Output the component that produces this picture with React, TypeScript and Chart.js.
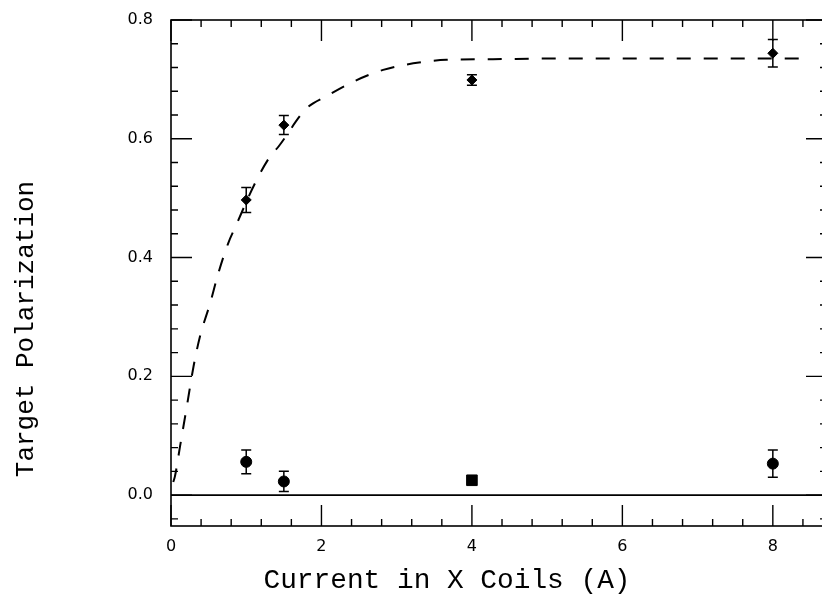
import React, { useEffect, useRef } from "react";
import { Chart, registerables } from "chart.js";

Chart.register(...registerables);

// ---- Data ----
const currents = [1, 1.5, 4, 8];
const polarizedValues = [0.497, 0.623, 0.699, 0.744];
const polarizedErrors = [0.021, 0.016, 0.009, 0.023];

const unpolarizedValues = [0.056, 0.023, 0.025, 0.053];
const unpolarizedErrors = [0.02, 0.017, 0.004, 0.023];
const unpolarizedStyles = ["circle", "circle", "rect", "circle"];
const unpolarizedRadii = [5.5, 5.5, 7.5, 5.5];

const fitCurrent = [0.03, 0.053, 0.12, 0.21, 0.3, 0.385, 0.52, 0.63, 0.76, 0.85, 1.116, 1.316, 1.43, 1.8, 2.07, 2.42, 2.82, 3.22, 3.66, 4.28, 5.0, 6.0, 7.0, 8.0, 8.4];
const fitPolarization = [0.022, 0.032, 0.082, 0.149, 0.217, 0.267, 0.323, 0.374, 0.424, 0.45, 0.525, 0.57, 0.587, 0.651, 0.672, 0.696, 0.716, 0.727, 0.733, 0.734, 0.735, 0.735, 0.735, 0.735, 0.735];

const xTicks = [0, 0.4, 0.8, 1.2, 1.6, 2, 2.4, 2.8, 3.2, 3.6, 4, 4.4, 4.8, 5.2, 5.6, 6, 6.4, 6.8, 7.2, 7.6, 8, 8.4];
const xMajorTicks = [0, 2, 4, 6, 8];
const yTicks = [-0.04, 0, 0.04, 0.08, 0.12, 0.16, 0.2, 0.24, 0.28, 0.32, 0.36, 0.4, 0.44, 0.48, 0.52, 0.56, 0.6, 0.64, 0.68, 0.72, 0.76, 0.8];
const yMajorTicks = [0, 0.2, 0.4, 0.6, 0.8];

const X_MIN = 0;
const X_MAX = 8.72;
const Y_MIN = -0.052;
const Y_MAX = 0.8;

const xTitle = "Current in X Coils (A)";
const yTitle = "Target Polarization";

const isIn = (arr: number[], v: number) => arr.some((a) => Math.abs(a - v) < 1e-6);

const decorPlugin = {
  id: "decor",
  beforeDatasetsDraw(chart: any) {
    const { ctx, scales } = chart;
    const { x, y } = scales;
    ctx.save();
    ctx.strokeStyle = "#000";
    ctx.lineWidth = 1.5;
    chart.data.datasets.forEach((ds: any) => {
      if (!ds.errors) return;
      ds.data.forEach((p: any, i: number) => {
        const e = ds.errors[i];
        const px = x.getPixelForValue(p.x);
        const top = y.getPixelForValue(p.y + e);
        const bot = y.getPixelForValue(p.y - e);
        ctx.beginPath();
        ctx.moveTo(px, top);
        ctx.lineTo(px, bot);
        ctx.moveTo(px - 5, top);
        ctx.lineTo(px + 5, top);
        ctx.moveTo(px - 5, bot);
        ctx.lineTo(px + 5, bot);
        ctx.stroke();
      });
    });
    ctx.restore();
  },
  afterDraw(chart: any) {
    const { ctx, chartArea, scales } = chart;
    const { left, right, top, bottom } = chartArea;
    const { x, y } = scales;
    ctx.save();
    ctx.strokeStyle = "#000";
    ctx.lineWidth = 1.6;
    ctx.strokeRect(left, top, right - left, bottom - top);
    ctx.lineWidth = 1.4;
    ctx.beginPath();
    xTicks.forEach((v) => {
      const px = x.getPixelForValue(v);
      const len = isIn(xMajorTicks, v) ? 21 : 7;
      ctx.moveTo(px, bottom);
      ctx.lineTo(px, bottom - len);
      ctx.moveTo(px, top);
      ctx.lineTo(px, top + len);
    });
    yTicks.forEach((v) => {
      const py = y.getPixelForValue(v);
      const len = isIn(yMajorTicks, v) ? 21 : 7;
      ctx.moveTo(left, py);
      ctx.lineTo(left + len, py);
      ctx.moveTo(right, py);
      ctx.lineTo(right - len, py);
    });
    ctx.stroke();

    ctx.fillStyle = "#000";
    ctx.font = "27.8px 'Liberation Mono'";
    ctx.textAlign = "center";
    ctx.textBaseline = "alphabetic";
    ctx.fillText(xTitle, left + 276, 588);

    ctx.font = "26px 'Liberation Mono'";
    ctx.translate(33, 329);
    ctx.rotate(-Math.PI / 2);
    ctx.fillText(yTitle, 0, 0);
    ctx.restore();
  },
};

export default function App() {
  const canvasRef = useRef<HTMLCanvasElement | null>(null);

  useEffect(() => {
    if (!canvasRef.current) return;
    const chart = new Chart(canvasRef.current, {
      type: "scatter",
      data: {
        datasets: [
          {
            type: "line",
            label: "zero",
            data: [
              { x: X_MIN, y: 0 },
              { x: X_MAX, y: 0 },
            ],
            borderColor: "#000",
            borderWidth: 1.6,
            pointRadius: 0,
          },
          {
            type: "line",
            label: "fit",
            data: fitCurrent.map((c, i) => ({ x: c, y: fitPolarization[i] })),
            borderColor: "#000",
            borderWidth: 2,
            borderDash: [14, 13],
            pointRadius: 0,
            cubicInterpolationMode: "monotone",
          },
          {
            label: "polarized",
            data: currents.map((c, i) => ({ x: c, y: polarizedValues[i] })),
            errors: polarizedErrors,
            pointStyle: "rectRot",
            pointRadius: 5,
            backgroundColor: "#000",
            borderColor: "#000",
            borderWidth: 1,
          } as any,
          {
            label: "unpolarized",
            data: currents.map((c, i) => ({ x: c, y: unpolarizedValues[i] })),
            errors: unpolarizedErrors,
            pointStyle: unpolarizedStyles,
            pointRadius: unpolarizedRadii,
            backgroundColor: "#000",
            borderColor: "#000",
            borderWidth: 1,
          } as any,
        ],
      },
      options: {
        animation: false,
        responsive: false,
        devicePixelRatio: 1,
        layout: { padding: { left: 0, top: 20, right: 13, bottom: 0 } },
        plugins: { legend: { display: false }, tooltip: { enabled: false } },
        scales: {
          x: {
            type: "linear",
            min: X_MIN,
            max: X_MAX,
            grid: { display: false, drawTicks: false },
            border: { display: false },
            afterBuildTicks: (scale: any) => {
              scale.ticks = xTicks.map((v) => ({ value: v }));
            },
            afterFit: (scale: any) => {
              scale.height = 71;
              scale.paddingLeft = 0;
              scale.paddingRight = 0;
            },
            ticks: {
              autoSkip: false,
              maxRotation: 0,
              padding: 11,
              color: "#000",
              font: { family: "'DejaVu Sans'", size: 16 },
              callback: (v: any) => (isIn(xMajorTicks, Number(v)) ? String(Math.round(Number(v))) : ""),
            },
          },
          y: {
            type: "linear",
            min: Y_MIN,
            max: Y_MAX,
            grid: { display: false, drawTicks: false },
            border: { display: false },
            afterBuildTicks: (scale: any) => {
              scale.ticks = yTicks.map((v) => ({ value: v }));
            },
            afterFit: (scale: any) => {
              scale.width = 171;
              scale.paddingTop = 0;
              scale.paddingBottom = 0;
            },
            ticks: {
              autoSkip: false,
              padding: 18,
              color: "#000",
              font: { family: "'DejaVu Sans'", size: 16 },
              callback: (v: any) => (isIn(yMajorTicks, Number(v)) ? Number(v).toFixed(1) : ""),
            },
          },
        },
      },
      plugins: [decorPlugin],
    });
    return () => chart.destroy();
  }, []);

  return (
    <div
      style={{
        position: "fixed",
        left: 0,
        top: 0,
        width: 822,
        height: 597,
        overflow: "hidden",
        background: "#fff",
      }}
    >
      <canvas ref={canvasRef} width={840} height={597} style={{ display: "block" }} />
    </div>
  );
}
